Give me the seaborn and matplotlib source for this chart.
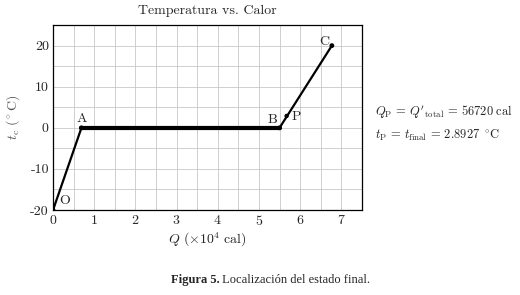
import numpy as np
import pandas as pd
import matplotlib
matplotlib.use("Agg")
import matplotlib.pyplot as plt
import seaborn as sns
from matplotlib.ticker import MultipleLocator

# Puntos del proceso (Q en 1e4 cal, t en °C)
etiquetas = ["O", "A", "B", "C"]
Q = [0.0, 0.69, 5.50, 6.77]
t = [-20.0, 0.0, 0.0, 20.0]
Q_P = 5.672
t_P = 2.8927

df = pd.DataFrame({"Q": Q, "t": t, "punto": etiquetas})

sns.set_style("white")
plt.rcParams["font.family"] = ["cmr10", "DejaVu Serif"]
plt.rcParams["mathtext.fontset"] = "cm"
plt.rcParams["axes.unicode_minus"] = False
plt.rcParams["axes.formatter.use_mathtext"] = True

fig = plt.figure(figsize=(5.2, 2.95), dpi=100)
ax = fig.add_axes([0.102, 0.288, 0.594, 0.627])

# tramos: calentamiento hielo, fusion, calentamiento agua
sns.lineplot(data=df.iloc[0:2], x="Q", y="t", color="black", lw=1.6, sort=False, ax=ax)
sns.lineplot(data=df.iloc[1:3], x="Q", y="t", color="black", lw=3.0, sort=False, ax=ax)
sns.lineplot(data=df.iloc[2:4], x="Q", y="t", color="black", lw=1.6, sort=False, ax=ax)
sns.scatterplot(data=df, x="Q", y="t", color="black", s=12, edgecolor="none", ax=ax, zorder=5)
ax.scatter([Q_P], [t_P], color="black", s=10, edgecolor="none", zorder=5)

ax.set_xlim(0, 7.5)
ax.set_ylim(-20, 25)
ax.xaxis.set_major_locator(MultipleLocator(1))
ax.xaxis.set_minor_locator(MultipleLocator(0.5))
ax.yaxis.set_major_locator(MultipleLocator(10))
ax.yaxis.set_minor_locator(MultipleLocator(5))
ax.grid(which="both", color="#c8c8c8", lw=0.6)
ax.tick_params(which="both", length=0, labelsize=10, pad=3)
for s in ax.spines.values():
    s.set_color("black")
    s.set_linewidth(0.9)
ax.set_yticks([-20, -10, 0, 10, 20])
ax.set_yticklabels(["-20", "-10", "0", "10", "20"])

ax.set_title("Temperatura vs. Calor", fontsize=10, pad=8)
ax.set_xlabel(r"$Q\ (\times10^4\ \mathrm{cal})$", fontsize=10, labelpad=2)
ax.set_ylabel(r"$t_\mathrm{c}\ (^\circ\mathrm{C})$", fontsize=10, color="#555555", labelpad=6)

# etiquetas de puntos
ax.text(0.15, -19.2, "O", fontsize=10, ha="left", va="bottom")
ax.text(0.69, 0.6, "A", fontsize=10, ha="center", va="bottom")
ax.text(5.45, 0.4, "B", fontsize=10, ha="right", va="bottom")
ax.text(Q_P + 0.12, t_P - 0.2, "P", fontsize=10, ha="left", va="center")
ax.text(6.70, 21.0, "C", fontsize=10, ha="right", va="center")

fig.text(0.722, 0.618, r"$Q_\mathrm{P}\,=\,Q'_\mathrm{total}\,=\,56720\ \mathrm{cal}$",
         fontsize=9, va="center")
fig.text(0.722, 0.54, r"$t_\mathrm{P}\,=\,t_\mathrm{final}\,=\,2.8927\ {}^\circ\!\mathrm{C}$",
         fontsize=9, va="center")

fig.text(0.422, 0.05, "Figura 5.", fontsize=9, ha="right", va="center",
         fontweight="bold", fontfamily="Liberation Serif")
fig.text(0.422, 0.05, " Localización del estado final.", fontsize=9, ha="left", va="center",
         fontfamily="Liberation Serif")

fig.savefig("out.png", dpi=100)
